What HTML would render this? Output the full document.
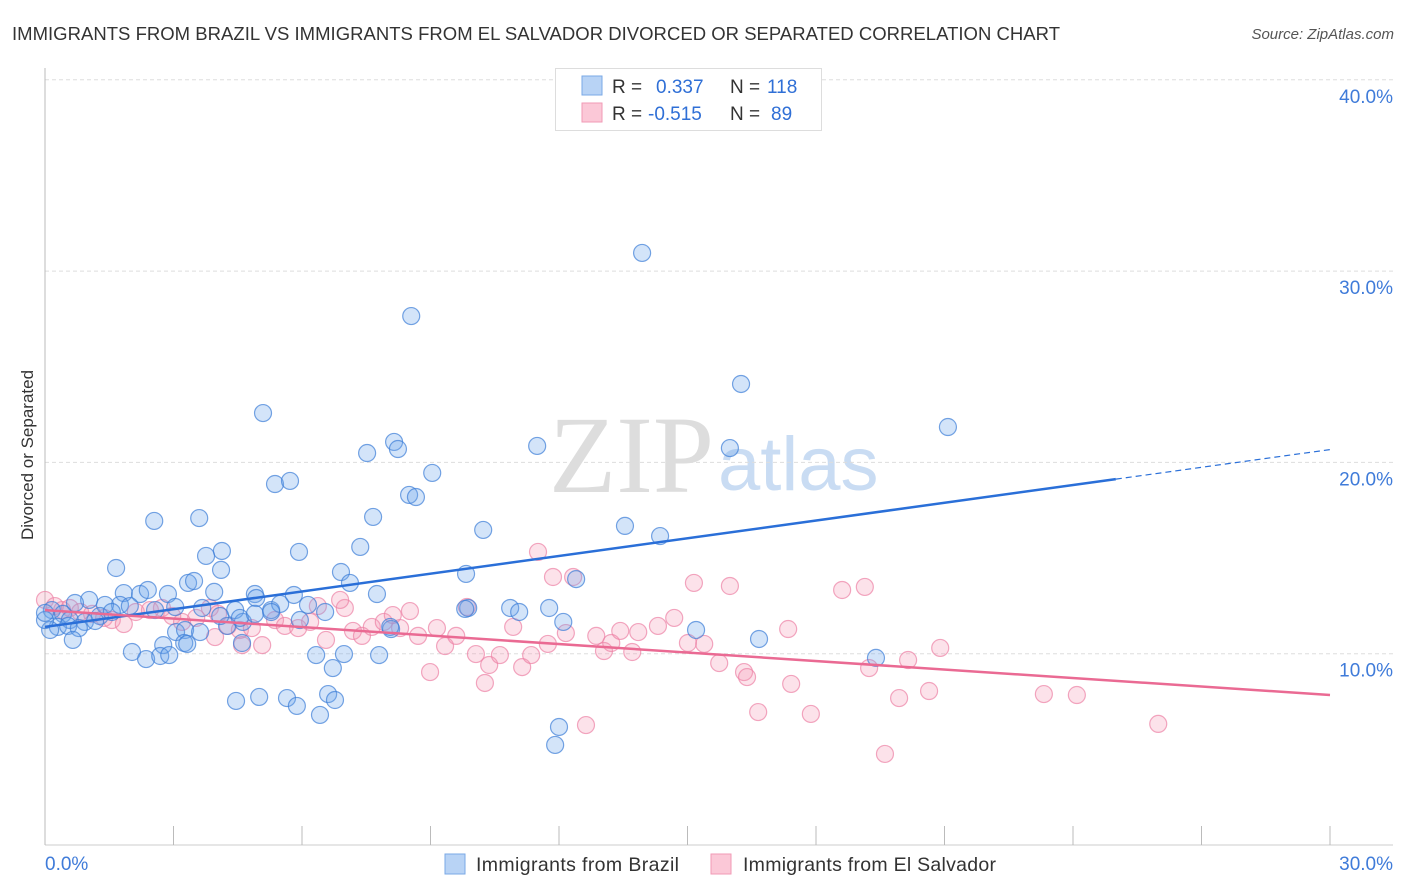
<!DOCTYPE html>
<html><head><meta charset="utf-8"><style>
body{margin:0;background:#fff;font-family:"Liberation Sans",sans-serif}
#wrap{position:relative;width:1406px;height:892px;overflow:hidden}
</style></head><body>
<div id="wrap">
<svg id="svg" width="1406" height="892" xmlns="http://www.w3.org/2000/svg">
<text x="12" y="40" font-size="18.5" fill="#333" textLength="1048">IMMIGRANTS FROM BRAZIL VS IMMIGRANTS FROM EL SALVADOR DIVORCED OR SEPARATED CORRELATION CHART</text>
<text x="1394" y="39" font-size="15" fill="#555" font-style="italic" text-anchor="end">Source: ZipAtlas.com</text>
<text x="714" y="492" font-size="110" fill="#ddd" font-family="Liberation Serif,serif" text-anchor="end">ZIP</text>
<text x="718" y="490" font-size="76" fill="#c9dcf3">atlas</text>
<g id="grid"></g>
<g id="axes"></g>
<g id="pts"></g>
<g id="lines"></g>
<text transform="translate(33,455) rotate(-90)" font-size="17" fill="#333" text-anchor="middle">Divorced or Separated</text>
<g>
<rect x="555.5" y="68.5" width="266" height="62" fill="#fff" stroke="#ddd"/>
<rect x="582" y="76" width="20" height="19" fill="#b8d3f5" stroke="#7aa8e6"/>
<rect x="582" y="103" width="20" height="19" fill="#fbc8d7" stroke="#f09ab6"/>
<text x="612" y="93" font-size="19" fill="#333">R = <tspan fill="#2f6fd6" x="656">0.337</tspan><tspan x="730">N = </tspan><tspan fill="#2f6fd6" x="767">118</tspan></text>
<text x="612" y="120" font-size="19" fill="#333">R = <tspan fill="#2f6fd6" x="648">-0.515</tspan><tspan x="730">N = </tspan><tspan fill="#2f6fd6" x="771">89</tspan></text>
</g>
<g>
<rect x="445" y="854" width="20" height="20" fill="#b8d3f5" stroke="#7aa8e6"/>
<text x="476" y="871" font-size="19.5" fill="#333" textLength="203">Immigrants from Brazil</text>
<rect x="711" y="854" width="20" height="20" fill="#fbc8d7" stroke="#f09ab6"/>
<text x="743" y="871" font-size="19.5" fill="#333" textLength="253">Immigrants from El Salvador</text>
</g>
</svg>
</div>
<script>
const yTicks=[10,20,30,40];
const yTickLabels=["10.0%","20.0%","30.0%","40.0%"];
const xTickLabels=["0.0%","30.0%"];
const brazilX=[13.94,8.55,16.25,5.09,21.08,8.15,11.49,8.24,7.52,15.99,9.04,5.37,5.72,8.5,8.66,7.66,2.55,3.6,10.23,13.54,14.36,5.93,7.36,4.13,3.76,4.11,1.66,3.34,3.48,6.91,7.12,9.83,12.4,7.75,3.95,1.84,2.22,2.4,2.87,4.9,5.81,4.93,1.75,1.03,0.7,1.4,1.98,2.57,3.04,3.67,4.44,5.28,5.49,6.14,6.54,9.88,10.86,11.07,11.77,12.1,9.81,0.16,0.42,0.58,0.93,1.28,1.56,0.3,0.12,0.54,0.79,1.17,0,3.06,3.27,3.62,4.25,4.62,4.55,8.08,15.2,16.67,0.65,2.76,3.25,2.03,2.36,2.69,2.9,3.32,6.33,6.98,7.8,6.72,19.4,4.46,5.0,5.65,5.88,6.42,6.61,6.77,12.0,11.91,4.6,8.06,5.95,4.9,5.28,4.09,0.0];
const brazilY=[30.95,27.65,24.1,22.58,21.85,21.07,20.86,20.7,20.49,20.75,19.45,18.87,19.03,18.3,18.19,17.15,16.94,17.09,16.47,16.68,16.15,15.32,15.58,15.37,15.11,14.38,14.48,13.7,13.8,14.27,13.7,14.17,13.9,13.12,13.23,13.17,13.12,13.33,13.12,13.12,13.07,12.91,12.55,12.81,12.65,12.55,12.49,12.28,12.44,12.39,12.28,12.28,12.6,12.55,12.18,12.39,12.39,12.18,12.39,11.66,12.34,12.28,12.08,11.76,11.66,11.97,12.18,11.4,11.24,11.45,11.34,11.71,11.76,11.13,11.24,11.13,11.45,11.66,11.87,11.29,11.24,10.77,10.72,10.45,10.56,10.09,9.72,9.88,9.93,10.51,9.93,9.98,9.93,9.25,9.78,7.53,7.74,7.68,7.27,6.8,7.89,7.58,6.17,5.23,10.56,11.4,11.76,12.08,12.18,11.97,12.13];
const salvX=[0,0.23,0.4,0.58,0.82,1.1,1.38,1.56,1.84,2.12,2.45,2.73,2.97,3.2,3.53,3.85,4.04,4.27,4.55,4.83,5.07,3.97,4.6,5.37,5.6,5.91,6.19,6.37,6.56,7.0,7.19,7.4,7.63,7.91,8.12,8.29,8.52,8.71,9.15,9.34,9.6,9.85,10.06,10.27,10.37,10.62,10.93,11.14,11.35,11.51,11.74,11.86,12.16,12.33,12.63,12.87,13.05,13.22,13.43,13.85,13.71,14.31,14.69,15.01,15.15,15.39,15.74,15.99,16.32,16.39,16.65,17.35,17.42,17.88,18.61,19.14,19.24,19.61,19.94,20.15,20.64,20.9,23.32,24.09,25.99,8.99,6.89];
const salvY=[12.81,12.49,12.28,12.39,12.18,12.08,11.87,11.76,11.55,12.18,12.28,12.39,11.97,11.66,11.87,12.39,12.08,11.45,11.24,11.34,10.45,10.87,10.45,11.76,11.45,11.34,11.66,12.49,10.72,12.39,11.19,10.93,11.4,11.66,12.02,11.34,12.23,10.93,11.34,10.4,10.93,12.44,9.98,8.47,9.41,9.93,11.4,9.3,9.93,15.32,10.51,14.01,11.08,14.01,6.27,10.93,10.14,10.56,11.19,11.13,10.09,11.45,11.87,10.56,13.7,10.51,9.51,13.54,9.04,8.78,6.95,11.29,8.42,6.85,13.33,13.49,9.25,4.76,7.68,9.67,8.05,10.3,7.89,7.84,6.33,9.04,12.81];
const brazilTrend=[11.4,20.67];
const salvTrend=[12.28,7.84];

const X0=45,X1=1330,Y0=845,PPY=19.13;
function sx(v){return X0+(X1-X0)*v/30;}
function sy(v){return Y0-v*PPY;}
const NS="http://www.w3.org/2000/svg";
function mk(tag,attrs,parent){const e=document.createElementNS(NS,tag);for(const k in attrs)e.setAttribute(k,attrs[k]);parent.appendChild(e);return e;}
const grid=document.getElementById('grid'),axes=document.getElementById('axes'),pts=document.getElementById('pts'),lines=document.getElementById('lines');
yTicks.forEach((t,i)=>{
  const l=mk('line',{x1:45,x2:1393,y1:sy(t),y2:sy(t),stroke:'#ddd','stroke-dasharray':'4,3'},grid);
  
  
  const tx=mk('text',{x:1393,y:sy(t)+23,'font-size':19,fill:'#3f7bd9','text-anchor':'end'},axes);
  tx.textContent=yTickLabels[i];
  
  
});
const la=mk('line',{x1:45,x2:45,y1:68,y2:845,stroke:'#bbb'},axes);


const lb=mk('line',{x1:45,x2:1393,y1:845,y2:845,stroke:'#ccc'},axes);


for(let i=0;i<=10;i++){
  const t=mk('line',{x1:sx(i*3),x2:sx(i*3),y1:826,y2:845,stroke:'#bbb'},axes);
  
  
}
const xl0=mk('text',{x:45,y:870,'font-size':19,fill:'#3f7bd9'},axes);xl0.textContent=xTickLabels[0];


const xl1=mk('text',{x:1393,y:870,'font-size':19,fill:'#3f7bd9','text-anchor':'end'},axes);xl1.textContent=xTickLabels[1];


salvX.forEach((v,i)=>{
  const c=mk('circle',{cx:sx(v),cy:sy(salvY[i]),r:8.5,fill:'rgba(244,150,180,0.28)',stroke:'rgba(236,130,165,0.7)','stroke-width':1.2},pts);
  
  
});
brazilX.forEach((v,i)=>{
  const c=mk('circle',{cx:sx(v),cy:sy(brazilY[i]),r:8.5,fill:'rgba(110,165,235,0.3)',stroke:'rgba(60,125,215,0.7)','stroke-width':1.2},pts);
  
  
});
const bMid=brazilTrend[0]+(brazilTrend[1]-brazilTrend[0])*25/30;
const b1=mk('line',{x1:sx(0),y1:sy(brazilTrend[0]),x2:sx(25),y2:sy(bMid),stroke:'#2a6fd8','stroke-width':2.5},lines);


const b2=mk('line',{x1:sx(25),y1:sy(bMid),x2:sx(30),y2:sy(brazilTrend[1]),stroke:'#2a6fd8','stroke-width':1.2,'stroke-dasharray':'6,4'},lines);


const p1=mk('line',{x1:sx(0),y1:sy(salvTrend[0]),x2:sx(30),y2:sy(salvTrend[1]),stroke:'#ea6a93','stroke-width':2.5},lines);


</script>
</body></html>
